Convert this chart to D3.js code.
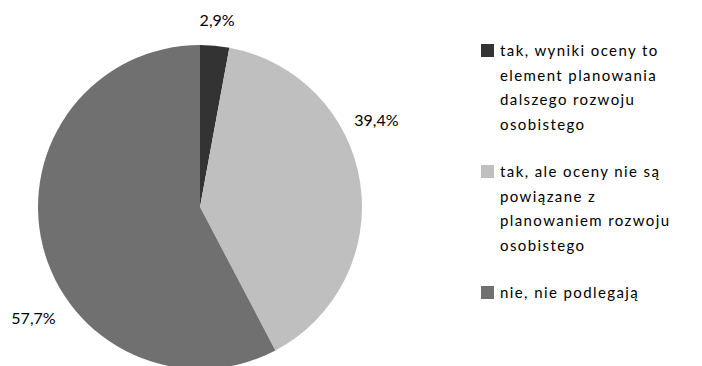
<!DOCTYPE html>
<html>
<head>
<meta charset="utf-8">
<script src="https://cdn.jsdelivr.net/npm/d3@7"></script>
<style>
  html, body { margin: 0; padding: 0; background: #fff; }
  svg { display: block; }
  text { font-family: Lato, "Open Sans", sans-serif; fill: #000; }
</style>
</head>
<body>
<svg id="chart" width="702" height="366"></svg>
<script>
// Answer categories (legend lines wrapped as printed)
const categories = [
  "tak, wyniki oceny to element planowania dalszego rozwoju osobistego",
  "tak, ale oceny nie są powiązane z planowaniem rozwoju osobistego",
  "nie, nie podlegają"
];
const legendLines = [
  ["tak, wyniki oceny to", "element planowania", "dalszego rozwoju", "osobistego"],
  ["tak, ale oceny nie są", "powiązane z", "planowaniem rozwoju", "osobistego"],
  ["nie, nie podlegają"]
];
// Share of respondents, percent
const shares = [2.9, 39.4, 57.7];
const shareLabels = ["2,9%", "39,4%", "57,7%"];
const sliceColors = ["#333333", "#bfbfbf", "#707070"];

const W = 702, H = 366;
const cx = 200, cy = 207, R = 162;

const svg = d3.select("#chart");

const pie = d3.pie().sort(null).value(d => d)
  .startAngle(0).endAngle(2 * Math.PI);
const arcs = pie(shares);
const arc = d3.arc().innerRadius(0).outerRadius(R);

const g = svg.append("g").attr("transform", `translate(${cx},${cy})`);
g.selectAll("path.slice")
  .data(arcs)
  .join("path")
  .attr("class", "slice")
  .attr("d", arc)
  .attr("fill", (d, i) => sliceColors[i]);

// Data labels placed outside the pie (best-fit style offsets from the slice middle)
const labelShift = [0, -0.31, -0.345];   // radians added to the slice mid-angle
const labelRadius = [188, 197, 200];
g.selectAll("text.lbl")
  .data(arcs)
  .join("text")
  .attr("class", "lbl")
  .attr("text-anchor", "middle")
  .attr("dominant-baseline", "central")
  .attr("font-size", 16)
  .attr("x", (d, i) => {
    const a = (d.startAngle + d.endAngle) / 2 + labelShift[i];
    return Math.sin(a) * labelRadius[i];
  })
  .attr("y", (d, i) => {
    const a = (d.startAngle + d.endAngle) / 2 + labelShift[i];
    return -Math.cos(a) * labelRadius[i];
  })
  .text((d, i) => shareLabels[i]);

// Legend
const lx = 481, textX = 500, firstBase = 56, lineH = 24.7, itemGap = 22.2, sw = 13;
const legend = svg.append("g");
let lineIdx = 0;
legendLines.forEach((lines, i) => {
  const base = firstBase + lineIdx * lineH + i * itemGap;
  legend.append("rect")
    .attr("x", lx).attr("y", base - sw + 1)
    .attr("width", sw).attr("height", sw)
    .attr("fill", sliceColors[i]);
  const t = legend.append("text")
    .attr("font-size", 15)
    .attr("letter-spacing", 1.4)
    .attr("x", textX).attr("y", base);
  lines.forEach((ln, j) => {
    t.append("tspan").attr("x", textX).attr("y", base + j * lineH).text(ln);
  });
  lineIdx += lines.length;
});
</script>
</body>
</html>
